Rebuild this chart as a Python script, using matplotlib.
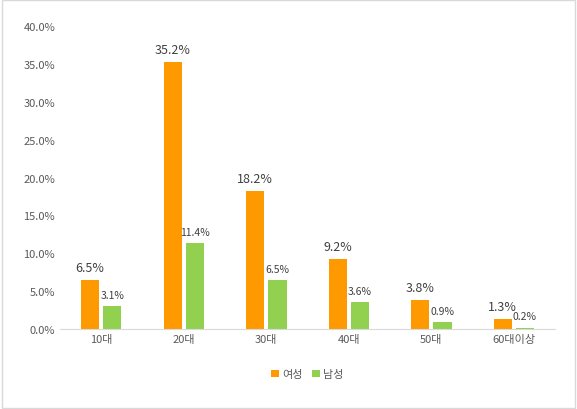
import matplotlib
matplotlib.use("Agg")
import matplotlib.pyplot as plt
import numpy as np
from matplotlib.patches import Rectangle

plt.rcParams['font.family'] = ['Noto Sans CJK KR', 'DejaVu Sans']

categories = ['10대', '20대', '30대', '40대', '50대', '60대이상']
female = [6.5, 35.2, 18.2, 9.2, 3.8, 1.3]
male = [3.1, 11.4, 6.5, 3.6, 0.9, 0.2]
yticks = [0, 5, 10, 15, 20, 25, 30, 35, 40]

fig = plt.figure(figsize=(5.77, 4.10), dpi=100)
fig.patches.append(Rectangle((0.003, 0.003), 0.994, 0.994, transform=fig.transFigure,
                             fill=False, edgecolor='#D9D9D9', linewidth=1))
ax = fig.add_axes([0.104, 0.195, 0.858, 0.739])
x = np.arange(len(categories))
w = 0.22
orange = '#FF9900'
green = '#92D050'
ax.bar(x - w/2 - 0.025, female, w, color=orange, label='여성')
ax.bar(x + w/2 + 0.025, male, w, color=green, label='남성')
for i in range(len(categories)):
    ax.text(x[i] - w/2 - 0.025, female[i] + 0.8, f'{female[i]:.1f}%', ha='center', va='bottom', fontsize=9, color='#404040')
    ax.text(x[i] + w/2 + 0.025, male[i] + 0.8, f'{male[i]:.1f}%', ha='center', va='bottom', fontsize=7.5, color='#404040')
ax.set_ylim(0, 40)
ax.set_xlim(-0.5, len(categories) - 0.5)
ax.set_yticks(yticks)
ax.set_yticklabels([f'{v:.1f}%' for v in yticks], fontsize=8, color='#595959')
ax.set_xticks(x)
ax.set_xticklabels(categories, fontsize=8, color='#595959')
ax.tick_params(length=0)
for s in ['top', 'right', 'left']:
    ax.spines[s].set_visible(False)
ax.spines['bottom'].set_color('#D9D9D9')
ax.legend(loc='upper center', bbox_to_anchor=(0.5, -0.1), ncol=2, frameon=False,
          fontsize=8, handlelength=0.7, handleheight=0.7, columnspacing=0.8, handletextpad=0.3,
          labelcolor='#595959')
fig.savefig('out.png', dpi=100)
